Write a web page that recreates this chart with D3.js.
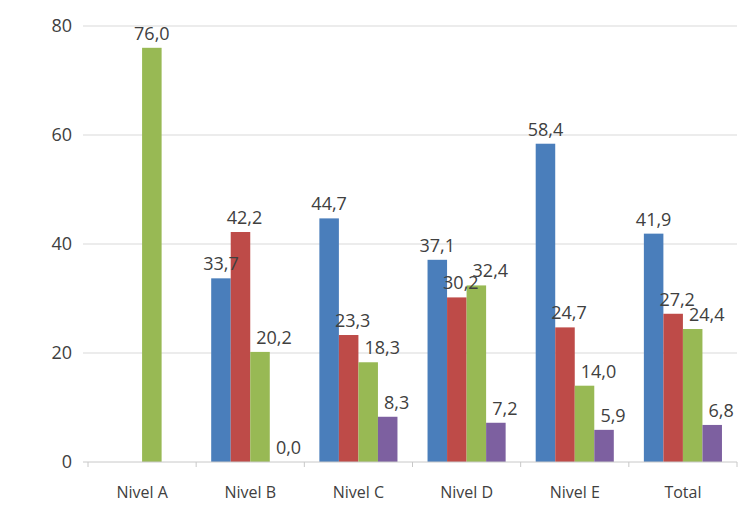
<!DOCTYPE html>
<html>
<head>
<meta charset="utf-8">
<script src="https://cdn.jsdelivr.net/npm/d3@7"></script>
<style>
  body { margin: 0; background: #fff; }
  text { font-family: "Open Sans", Lato, sans-serif; fill: #404040; }
</style>
</head>
<body>
<div id="chart"></div>
<script>
// categories and series (null = no bar)
var categories = ["Nivel A", "Nivel B", "Nivel C", "Nivel D", "Nivel E", "Total"];
var serie1 = [null, 33.7, 44.7, 37.1, 58.4, 41.9];
var serie2 = [null, 42.2, 23.3, 30.2, 24.7, 27.2];
var serie3 = [76.0, 20.2, 18.3, 32.4, 14.0, 24.4];
var serie4 = [null, 0.0, 8.3, 7.2, 5.9, 6.8];
var yTicks = [0, 20, 40, 60, 80];

var series = [serie1, serie2, serie3, serie4];
var colors = ["#4a7ebb", "#be4b48", "#98b954", "#7d60a0"];
// label nudges per series, like the original label placement
var labelDx = [0, 4, 14, 9];

var width = 753, height = 513;

var svg = d3.select("#chart").append("svg")
  .attr("width", width)
  .attr("height", height);

var x = d3.scaleBand()
  .domain(categories)
  .range([88, 737])
  .paddingInner(0)
  .paddingOuter(0);

var x1 = d3.scaleBand()
  .domain(d3.range(series.length))
  .range([0, x.bandwidth()])
  .paddingOuter(0.77);

var y = d3.scaleLinear()
  .domain([0, 80])
  .range([462, 26]);

// gridlines
svg.append("g")
  .selectAll("line")
  .data(yTicks.filter(function(d) { return d > 0; }))
  .enter().append("line")
  .attr("x1", 83).attr("x2", 737)
  .attr("y1", function(d) { return y(d); })
  .attr("y2", function(d) { return y(d); })
  .attr("stroke", "#d9d9d9")
  .attr("stroke-width", 1);

// y labels
svg.append("g")
  .selectAll("text")
  .data(yTicks)
  .enter().append("text")
  .attr("x", 72)
  .attr("y", function(d) { return y(d); })
  .attr("dy", "0.36em")
  .attr("text-anchor", "end")
  .style("font-size", "18px")
  .text(function(d) { return d; });

// bars
var groups = svg.append("g")
  .selectAll("g")
  .data(categories)
  .enter().append("g")
  .attr("transform", function(d) { return "translate(" + x(d) + ",0)"; });

function rows(d, i) {
  return series.map(function(s, k) { return { k: k, v: s[i] }; })
    .filter(function(e) { return e.v !== null; });
}

groups.selectAll("rect")
  .data(rows)
  .enter().append("rect")
  .attr("x", function(d) { return x1(d.k); })
  .attr("width", x1.bandwidth())
  .attr("y", function(d) { return y(d.v); })
  .attr("height", function(d) { return y(0) - y(d.v); })
  .attr("fill", function(d) { return colors[d.k]; });

groups.selectAll("text")
  .data(rows)
  .enter().append("text")
  .attr("x", function(d, j, nodes) {
    var dx = nodes.length === 1 ? 0 : labelDx[d.k];
    return x1(d.k) + x1.bandwidth() / 2 + dx;
  })
  .attr("y", function(d) { return y(d.v) - 8; })
  .attr("text-anchor", "middle")
  .style("font-size", "18px")
  .text(function(d) { return d.v.toFixed(1).replace(".", ","); });

// baseline axis
var axis = svg.append("g");
axis.append("line")
  .attr("x1", 83).attr("x2", 737)
  .attr("y1", y(0)).attr("y2", y(0))
  .attr("stroke", "#c8c8c8");

axis.selectAll(".tick")
  .data(categories.concat(["end"]))
  .enter().append("line")
  .attr("class", "tick")
  .attr("x1", function(d, i) { return 88 + i * x.bandwidth(); })
  .attr("x2", function(d, i) { return 88 + i * x.bandwidth(); })
  .attr("y1", y(0))
  .attr("y2", y(0) + 5)
  .attr("stroke", "#c8c8c8");

axis.selectAll(".cat")
  .data(categories)
  .enter().append("text")
  .attr("class", "cat")
  .attr("x", function(d) { return x(d) + x.bandwidth() / 2; })
  .attr("y", 498)
  .attr("text-anchor", "middle")
  .style("font-size", "16px")
  .text(function(d) { return d; });
</script>
</body>
</html>
